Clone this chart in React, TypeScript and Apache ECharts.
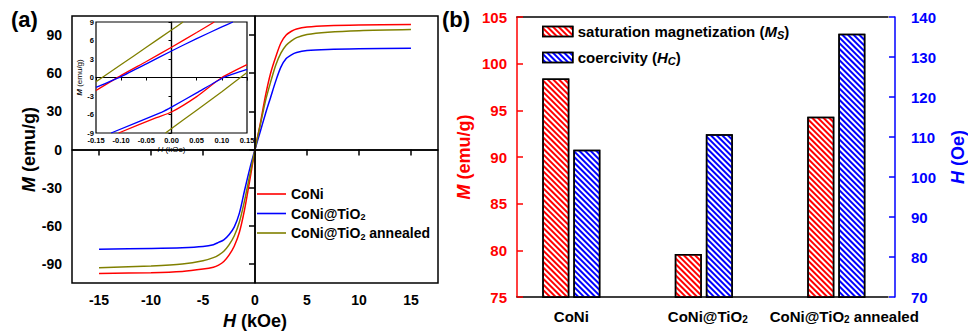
import React, { useEffect, useRef } from 'react';
import * as echarts from 'echarts';

const FONT = '"Liberation Sans", Arial, Helvetica, sans-serif';
const RED = '#ff0000';
const BLUE = '#0000ff';
const OLIVE = '#808000';

// ---------- panel (a): main hysteresis loops ----------
const sampleNames = ['CoNi', 'CoNi@TiO2', 'CoNi@TiO2 annealed'];
const fieldKOe = [-15, -10, -7, -5, -4, -3.5, -3, -2.5, -2, -1.5, -1, -0.5, 0, 0.5, 1, 1.5, 2, 2.5, 3, 3.5, 4, 5, 7, 10, 15];
const coniM = [-97.5, -96.8, -95.8, -94, -92.5, -90.8, -88, -83, -76, -65, -47, -24, 0, 20, 42, 60, 73, 84, 90, 93, 94.8, 96.3, 97.4, 98, 98.4];
const coniTiO2M = [-78.4, -77.8, -77.2, -76.2, -74.8, -73, -71, -67, -61, -50, -32, -15, 0, 14, 28, 41, 54, 65, 71.5, 74.5, 76.3, 77.8, 78.7, 79.2, 79.6];
const annealedM = [-93, -91.5, -90, -87.5, -85, -83, -80, -75, -68, -57, -40, -20, 0, 19, 38, 53, 66.5, 76, 82, 85.5, 88, 90.5, 92.3, 93.5, 94.3];
const mainXTicks = [-15, -10, -5, 0, 5, 10, 15];
const mainYTicks = [-90, -60, -30, 0, 30, 60, 90];

// ---------- panel (a): inset (low-field branches) ----------
const coniUpH = [-0.15, -0.1, -0.05, 0, 0.05, 0.085];
const coniUpM = [-2.1, 0.35, 2.6, 4.9, 7.3, 9];
const coniLowH = [-0.105, -0.03, 0, 0.05, 0.1, 0.15];
const coniLowM = [-9, -6.5, -5.6, -3.1, 0, 2.1];
const tio2UpH = [-0.15, -0.1, -0.05, 0, 0.05, 0.1, 0.122];
const tio2UpM = [-1.6, 0.15, 2.2, 4.3, 6.3, 8.2, 9];
const tio2LowH = [-0.12, -0.019, 0, 0.05, 0.104, 0.15];
const tio2LowM = [-9, -5.6, -4.8, -2.5, 0, 1.3];
const annUpH = [-0.15, -0.1, -0.05, 0, 0.023];
const annUpM = [-0.7, 2.1, 4.9, 7.7, 9];
const annLowH = [-0.012, 0.05, 0.1, 0.15];
const annLowM = [-9, -5.3, -2.3, 0.8];

// ---------- panel (b): bars ----------
const barCategories = ['CoNi', 'CoNi@TiO2', 'CoNi@TiO2 annealed'];
const barPositions = [1, 2, 3];
const barLabelPositions = [1, 2.03, 3.06];
const msValues = [98.4, 79.6, 94.3];
const hcValues = [106.8, 110.7, 135.8];

const zip = (xs: number[], ys: number[]) => xs.map((x, i) => [x, ys[i]]);
const sub = (s: string) => s.replace('TiO2', 'TiO{s|2}');

const boldBlack = { fontFamily: FONT, fontWeight: 'bold' as const, color: '#000' };

function buildOption() {
  const mainLine = (name: string, color: string, ys: number[], extra: any = {}) => ({
    type: 'line', name, xAxisIndex: 0, yAxisIndex: 0,
    data: zip(fieldKOe, ys), symbol: 'none', smooth: 0.3,
    lineStyle: { color, width: 1.5 }, itemStyle: { color }, ...extra,
  });
  const insetLine = (name: string, color: string, xs: number[], ys: number[], extra: any = {}) => ({
    type: 'line', name, xAxisIndex: 1, yAxisIndex: 1,
    data: zip(xs, ys), symbol: 'none', smooth: 0.2, z: 5,
    lineStyle: { color, width: 1.3 }, itemStyle: { color }, ...extra,
  });
  const zeroLines = (w: number) => ({
    markLine: {
      silent: true, symbol: ['none', 'none'], label: { show: false },
      lineStyle: { color: '#000', type: 'solid', width: w },
      data: [{ xAxis: 0 }, { yAxis: 0 }],
    },
  });
  const decal = (color: string) => ({
    symbol: 'rect', symbolSize: 1, dashArrayX: [1, 0], dashArrayY: [1.5, 1.8],
    rotation: Math.PI / 4, color, backgroundColor: '#fff',
  });

  return {
    animation: false,
    backgroundColor: '#fff',
    textStyle: { fontFamily: FONT },
    title: [
      { text: '(a)', left: 11, top: 8, padding: 0, textStyle: { ...boldBlack, fontSize: 22 } },
      { text: '(b)', left: 442, top: 8, padding: 0, textStyle: { ...boldBlack, fontSize: 22 } },
    ],
    legend: [
      {
        data: sampleNames, orient: 'vertical', left: 257, top: 186, padding: 0,
        icon: 'rect', itemWidth: 29, itemHeight: 1.6, itemGap: 3.5,
        formatter: (n: string) => sub(n),
        textStyle: {
          ...boldBlack, fontSize: 14, lineHeight: 16,
          rich: { s: { ...boldBlack, fontSize: 9, lineHeight: 9, verticalAlign: 'bottom' } },
        },
      },
      {
        data: ['Ms', 'Hc'], orient: 'vertical', left: 542, top: 22.5, padding: 0,
        itemWidth: 30, itemHeight: 10, itemGap: 8, icon: 'rect',
        itemStyle: { borderColor: '#000', borderWidth: 1.5 },
        formatter: (n: string) => (n === 'Ms' ? 'saturation magnetization ({i|M}{is|S})' : 'coercivity ({i|H}{is|C})'),
        textStyle: {
          ...boldBlack, fontSize: 15, lineHeight: 18,
          rich: {
            i: { ...boldBlack, fontStyle: 'italic', fontSize: 15, lineHeight: 18 },
            is: { ...boldBlack, fontStyle: 'italic', fontSize: 11, lineHeight: 11, verticalAlign: 'bottom' },
          },
        },
      },
    ],
    grid: [
      { left: 72, top: 16, width: 366, height: 274, show: true, borderColor: '#000', borderWidth: 1.5 },
      { left: 96, top: 22, width: 151, height: 111, show: true, backgroundColor: '#fff', borderColor: '#000', borderWidth: 1.2, z: 3 },
      { left: 517, top: 17, width: 375, height: 280, show: false },
    ],
    xAxis: [
      {
        gridIndex: 0, type: 'value', min: -17.6, max: 17.6,
        axisLine: { show: true, lineStyle: { color: '#000', width: 1.5 } },
        axisTick: { show: true, inside: false, length: 6, customValues: mainXTicks, lineStyle: { color: '#000', width: 1.5 } },
        axisLabel: { customValues: mainXTicks, ...boldBlack, fontSize: 14, margin: 10 },
        splitLine: { show: false },
        name: '{i|H} (kOe)', nameLocation: 'middle', nameGap: 24,
        nameTextStyle: { ...boldBlack, fontSize: 18, rich: { i: { ...boldBlack, fontSize: 18, fontStyle: 'italic' } } },
      },
      {
        gridIndex: 1, type: 'value', min: -0.15, max: 0.15, interval: 0.05, z: 4,
        axisLine: { show: true, lineStyle: { color: '#000', width: 1.2 } },
        axisTick: { show: true, inside: false, length: 3, lineStyle: { color: '#000', width: 1 } },
        axisLabel: {
          ...boldBlack, fontSize: 7.5, margin: 3.5,
          formatter: (v: number) => (Math.abs(v) < 1e-9 ? '0.00' : v.toFixed(2)),
        },
        splitLine: { show: false },
        name: '{i|H} (kOe)', nameLocation: 'middle', nameGap: 11,
        nameTextStyle: { ...boldBlack, fontWeight: 'normal', fontSize: 8, rich: { i: { color: '#000', fontFamily: FONT, fontSize: 8, fontStyle: 'italic' } } },
      },
      {
        gridIndex: 2, type: 'value', min: 0.59, max: 3.39,
        axisLine: { show: true, lineStyle: { color: '#000', width: 1.5 } },
        axisTick: { show: false },
        axisLabel: {
          customValues: barLabelPositions, ...boldBlack, fontSize: 15, margin: 12,
          formatter: (v: number) => sub(barCategories[Math.round(v) - 1] || ''),
          rich: { s: { ...boldBlack, fontSize: 10, lineHeight: 10, verticalAlign: 'bottom' } },
        },
        splitLine: { show: false },
      },
      {
        gridIndex: 2, type: 'value', position: 'top', min: 0.59, max: 3.39,
        axisLine: { show: true, lineStyle: { color: '#000', width: 1.5 } },
        axisTick: { show: false }, axisLabel: { show: false }, splitLine: { show: false },
      },
    ],
    yAxis: [
      {
        gridIndex: 0, type: 'value', min: -105, max: 105,
        axisLine: { show: true, lineStyle: { color: '#000', width: 1.5 } },
        axisTick: { show: true, inside: false, length: 6, customValues: mainYTicks, lineStyle: { color: '#000', width: 1.5 } },
        axisLabel: { customValues: mainYTicks, ...boldBlack, fontSize: 14, margin: 10 },
        splitLine: { show: false },
        name: '{i|M} (emu/g)', nameLocation: 'middle', nameGap: 32,
        nameTextStyle: { ...boldBlack, fontSize: 18, rich: { i: { ...boldBlack, fontSize: 18, fontStyle: 'italic' } } },
      },
      {
        gridIndex: 1, type: 'value', min: -9, max: 9, interval: 3, z: 4,
        axisLine: { show: true, lineStyle: { color: '#000', width: 1.2 } },
        axisTick: { show: true, inside: false, length: 3, lineStyle: { color: '#000', width: 1 } },
        axisLabel: { ...boldBlack, fontSize: 7.5, margin: 2 },
        splitLine: { show: false },
        name: '{i|M} (emu/g)', nameLocation: 'middle', nameGap: 10,
        nameTextStyle: { ...boldBlack, fontWeight: 'normal', fontSize: 8, rich: { i: { color: '#000', fontFamily: FONT, fontSize: 8, fontStyle: 'italic', fontWeight: 'bold' } } },
      },
      {
        gridIndex: 2, type: 'value', min: 75, max: 105, interval: 5,
        axisLine: { show: true, lineStyle: { color: RED, width: 1.5 } },
        axisTick: { show: true, inside: true, length: 6, lineStyle: { color: RED, width: 1.5 } },
        axisLabel: { fontFamily: FONT, fontWeight: 'bold', color: RED, fontSize: 15, margin: 10 },
        splitLine: { show: false },
        name: '{i|M} (emu/g)', nameLocation: 'middle', nameGap: 44,
        nameTextStyle: { fontFamily: FONT, fontWeight: 'bold', color: RED, fontSize: 18, rich: { i: { fontFamily: FONT, fontWeight: 'bold', color: RED, fontSize: 18, fontStyle: 'italic' } } },
      },
      {
        gridIndex: 2, type: 'value', position: 'right', offset: 7, min: 70, max: 140, interval: 10,
        axisLine: { show: true, lineStyle: { color: BLUE, width: 1.5 } },
        axisTick: { show: true, inside: true, length: 6, lineStyle: { color: BLUE, width: 1.5 } },
        axisLabel: { fontFamily: FONT, fontWeight: 'bold', color: BLUE, fontSize: 15, margin: 16 },
        splitLine: { show: false },
        name: '{i|H} (Oe)', nameLocation: 'middle', nameGap: 54,
        nameTextStyle: { fontFamily: FONT, fontWeight: 'bold', color: BLUE, fontSize: 18, rich: { i: { fontFamily: FONT, fontWeight: 'bold', color: BLUE, fontSize: 18, fontStyle: 'italic' } } },
      },
    ],
    series: [
      mainLine(sampleNames[0], RED, coniM, zeroLines(1.5)),
      mainLine(sampleNames[1], BLUE, coniTiO2M),
      mainLine(sampleNames[2], OLIVE, annealedM),
      insetLine(sampleNames[0], RED, coniUpH, coniUpM, zeroLines(1.2)),
      insetLine(sampleNames[0], RED, coniLowH, coniLowM),
      insetLine(sampleNames[1], BLUE, tio2UpH, tio2UpM),
      insetLine(sampleNames[1], BLUE, tio2LowH, tio2LowM),
      insetLine(sampleNames[2], OLIVE, annUpH, annUpM),
      insetLine(sampleNames[2], OLIVE, annLowH, annLowM),
      {
        type: 'bar', name: 'Ms', xAxisIndex: 2, yAxisIndex: 2, clip: true,
        data: zip(barPositions, msValues), barWidth: 27, barGap: '15%',
        itemStyle: { color: '#fff', borderColor: '#000', borderWidth: 1.5, decal: decal(RED) },
      },
      {
        type: 'bar', name: 'Hc', xAxisIndex: 2, yAxisIndex: 3, clip: true,
        data: zip(barPositions, hcValues), barWidth: 27, barGap: '15%',
        itemStyle: { color: '#fff', borderColor: '#000', borderWidth: 1.5, decal: decal(BLUE) },
      },
    ],
  };
}

export default function App() {
  const ref = useRef<HTMLDivElement>(null);
  useEffect(() => {
    if (!ref.current) return;
    const chart = echarts.init(ref.current, undefined, { renderer: 'svg' });
    chart.setOption(buildOption() as any);
    return () => chart.dispose();
  }, []);
  return <div ref={ref} style={{ position: 'fixed', left: 0, top: 0, width: 968, height: 335, background: '#fff' }} />;
}
